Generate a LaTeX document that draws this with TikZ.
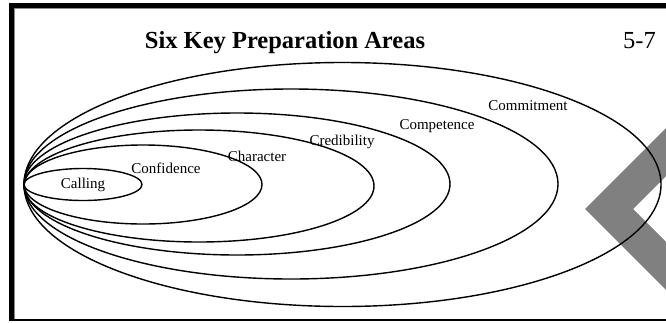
\documentclass[tikz,border=0pt]{standalone}
\usepackage{fontspec}
\setmainfont{Liberation Serif}
\begin{document}
\begin{tikzpicture}[x=1pt,y=-1pt,
  ring/.style={draw=black,line width=1.4pt},
  lbl/.style={font=\fontsize{15}{17}\selectfont,inner sep=0pt},
  chev/.style={fill=black!50,draw=none}]
\useasboundingbox (0,0) rectangle (666,322);
\fill[white] (0,0) rectangle (666,322);
% gray chevron
\fill[chev] (585,209) -- (666,128) -- (666,176) -- (633,209) -- (666,242) -- (666,290) -- cycle;
% frame
\draw[line width=5pt] (11.5,321) -- (11.5,5.5) -- (666,5.5);
\draw[black!45,line width=0.6pt] (14.3,321) -- (14.3,8.3) -- (666,8.3);
\draw[line width=2pt] (9,320) -- (666,320);
% title
\node[font=\bfseries\fontsize{24.5}{28}\selectfont,anchor=base,inner sep=0pt] (title) at (285,48) {Six Key Preparation Areas};
\node[font=\fontsize{24.5}{28}\selectfont,anchor=base east,inner sep=0pt] (num) at (656,48) {5-7};
% ellipses (common left point at x=24, y=184)
\draw[ring] (83,184.5) ellipse [x radius=59,y radius=16];
\draw[ring] (143,184.5) ellipse [x radius=119,y radius=39.5];
\draw[ring] (199,186) ellipse [x radius=175,y radius=56];
\draw[ring] (237,184) ellipse [x radius=213,y radius=71];
\draw[ring] (291,184) ellipse [x radius=267,y radius=95];
\draw[ring] (342.5,184.5) ellipse [x radius=318.5,y radius=122];
% labels
\node[lbl] (calling) at (83,185) {Calling};
\node[lbl] (confidence) at (166,168) {Confidence};
\node[lbl] (character) at (257,156) {Character};
\node[lbl] (credibility) at (342,142) {Credibility};
\node[lbl] (competence) at (437,126) {Competence};
\node[lbl] (commitment) at (528,106) {Commitment};
\end{tikzpicture}
\end{document}
